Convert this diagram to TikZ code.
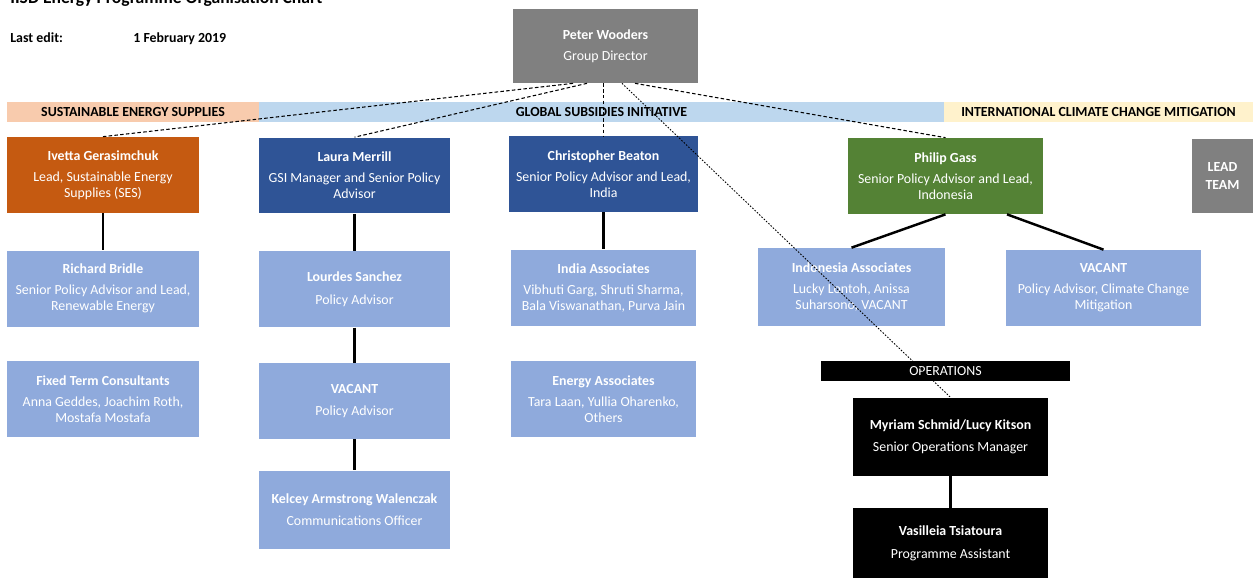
\documentclass[tikz,border=0pt]{standalone}
\usepackage{fontspec}
\setmainfont{Carlito}
\usetikzlibrary{positioning, calc}
\definecolor{directorgray}{RGB}{128,128,128}
\definecolor{sesorange}{RGB}{197,90,17}
\definecolor{gsiblue}{RGB}{47,84,150}
\definecolor{iccmgreen}{RGB}{84,130,53}
\definecolor{staffblue}{RGB}{143,170,220}
\definecolor{sesband}{RGB}{248,203,173}
\definecolor{gsiband}{RGB}{189,215,238}
\definecolor{iccmband}{RGB}{255,242,204}

\begin{document}
\begin{tikzpicture}[
    x=0.02cm, y=-0.02cm,
    every node/.style={font=\fontsize{7.9}{9.1}\selectfont},
    box/.style={rectangle, minimum width=3.84cm, minimum height=1.52cm, inner sep=0pt, align=center, text=white},
    lead/.style={box, fill=gsiblue},
    staff/.style={box, fill=staffblue},
    ops/.style={box, fill=black},
    band/.style={rectangle, minimum height=0.4cm, inner sep=0pt, font=\fontsize{7.9}{9.1}\selectfont\bfseries},
    link/.style={line width=1.4pt},
    report/.style={line width=0.6pt, dash pattern=on 2pt off 1.3pt},
    opsreport/.style={line width=0.5pt, dash pattern=on 0.9pt off 0.9pt}
]
\useasboundingbox (0,0) rectangle (1253,578);

% Header
\node[anchor=base west, inner sep=0pt, font=\fontsize{10}{12}\selectfont\bfseries] (title) at (10,4) {IISD Energy Programme Organisation Chart};
\node[anchor=base west, inner sep=0pt, font=\fontsize{7.9}{9.1}\selectfont\bfseries] (editlabel) at (10,42) {Last edit:};
\node[anchor=base west, inner sep=0pt, font=\fontsize{7.9}{9.1}\selectfont\bfseries] (editdate) at (133,42) {1 February 2019};

% Director
\node[box, fill=directorgray, minimum width=3.7cm, minimum height=1.48cm] (peter) at (605.5,46) {\textbf{Peter Wooders}\\[3pt] Group Director};

% Programme bands
\node[band, fill=sesband, minimum width=5.04cm] (ses) at (133,112) {SUSTAINABLE ENERGY SUPPLIES};
\node[band, fill=gsiband, minimum width=13.7cm] (gsi) at (601.5,112) {GLOBAL SUBSIDIES INITIATIVE};
\node[band, fill=iccmband, minimum width=6.18cm] (iccm) at (1098.5,112) {INTERNATIONAL CLIMATE CHANGE MITIGATION};

% Leads
\node[lead, fill=sesorange] (ivetta) at (103,175) {\textbf{Ivetta Gerasimchuk}\\[2.8pt] Lead, Sustainable Energy\\ Supplies (SES)};
\node[lead] (laura) at (354.5,175.5) {\textbf{Laura Merrill}\\[2.8pt] GSI Manager and Senior Policy\\ Advisor};
\node[lead, minimum width=3.78cm] (christopher) at (603.5,174) {\textbf{Christopher Beaton}\\[2.8pt] Senior Policy Advisor and Lead,\\ India};
\node[lead, fill=iccmgreen, minimum width=3.9cm] (philip) at (945.5,176) {\textbf{Philip Gass}\\[2.8pt] Senior Policy Advisor and Lead,\\ Indonesia};
\node[box, fill=directorgray, minimum width=1.22cm, minimum height=1.48cm, font=\fontsize{7.9}{10.8}\selectfont\bfseries] (leadteam) at (1222.5,176) {LEAD\\TEAM};

% Staff
\node[staff, below=0.74cm of ivetta] (richard) {\textbf{Richard Bridle}\\[2.8pt] Senior Policy Advisor and Lead,\\ Renewable Energy};
\node[staff, below=0.68cm of richard] (fixedterm) {\textbf{Fixed Term Consultants}\\[2.8pt] Anna Geddes, Joachim Roth,\\ Mostafa Mostafa};
\node[staff, below=0.74cm of laura] (lourdes) {\textbf{Lourdes Sanchez}\\[3.5pt] Policy Advisor};
\node[staff, below=0.7cm of lourdes] (gsivacant) {\textbf{VACANT}\\[3.5pt] Policy Advisor};
\node[staff, minimum height=1.56cm, below=0.62cm of gsivacant] (kelcey) {\textbf{Kelcey Armstrong Walenczak}\\[3.5pt] Communications Officer};
\node[staff, minimum width=3.7cm, below=0.74cm of christopher] (india) {\textbf{India Associates}\\[2.8pt] Vibhuti Garg, Shruti Sharma,\\ Bala Viswanathan, Purva Jain};
\node[staff, minimum width=3.72cm, below=0.7cm of india] (energy) {\textbf{Energy Associates}\\[2.8pt] Tara Laan, Yullia Oharenko,\\ Others};
\node[staff, minimum width=3.74cm, minimum height=1.56cm] (indonesia) at (851.5,287) {\textbf{Indonesia Associates}\\[2.8pt] Lucky Lontoh, Anissa\\ Suharsono, VACANT};
\node[staff, minimum width=3.9cm] (iccmvacant) at (1103.5,288) {\textbf{VACANT}\\[2.8pt] Policy Advisor, Climate Change\\ Mitigation};

% Operations
\node[band, fill=black, text=white, minimum width=4.98cm, font=\fontsize{7.9}{9.1}\selectfont] (operations) at (945.5,371) {OPERATIONS};
\node[ops, minimum width=3.9cm, minimum height=1.56cm, below=0.32cm of operations, xshift=0.1cm] (myriam) {\textbf{Myriam Schmid/Lucy Kitson}\\[3.5pt] Senior Operations Manager};
\node[ops, minimum width=3.9cm, minimum height=1.4cm, below=0.64cm of myriam] (vasilleia) {\textbf{Vasilleia Tsiatoura}\\[3.5pt] Programme Assistant};

% Reporting lines
\draw[report] ([xshift=-0.65cm]peter.south) -- (ivetta.north);
\draw[report] ([xshift=-0.37cm]peter.south) -- (laura.north);
\draw[report] (christopher.north |- peter.south) -- (christopher.north);
\draw[report] ([xshift=0.59cm]peter.south) -- (philip.north);
\draw[opsreport] ([xshift=0.33cm]peter.south) -- (myriam.north);

% Team lines
\draw[link] (ivetta) -- (richard);
\draw[link] (laura) -- (lourdes);
\draw[link] (lourdes) -- (gsivacant);
\draw[link] (gsivacant) -- (kelcey);
\draw[link] (christopher) -- (india);
\draw[link] (philip.south) -- (indonesia.north);
\draw[link] ([xshift=1.23cm]philip.south) -- (iccmvacant.north);
\draw[link] (myriam) -- (vasilleia);

\end{tikzpicture}
\end{document}
